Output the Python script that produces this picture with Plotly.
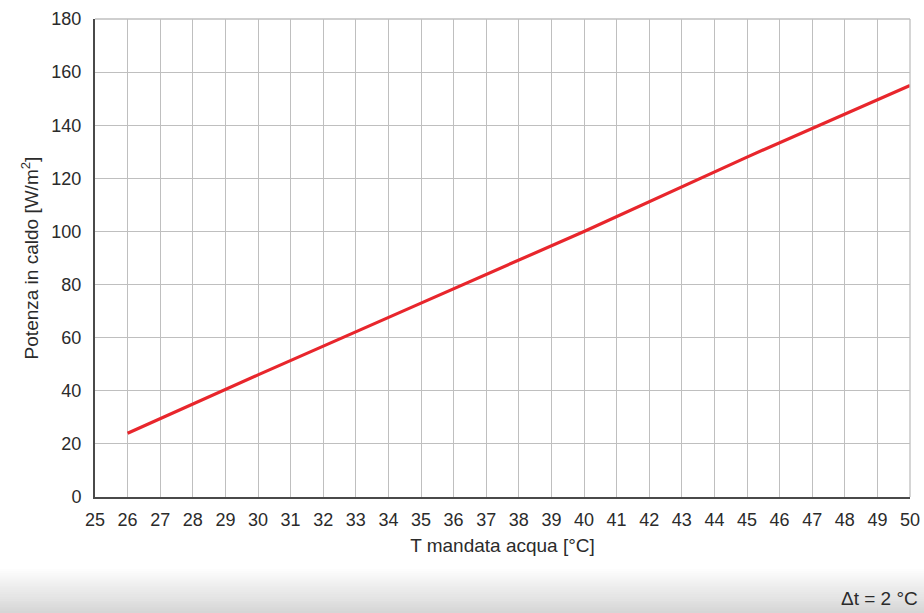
import plotly.graph_objects as go

# T mandata acqua [°C] vs potenza in caldo [W/m2], Δt = 2 °C
t_mandata = [26, 30, 35, 40, 45, 50]
potenza = [24, 46, 73, 100, 128, 155]

x_ticks = list(range(25, 51))
y_ticks = list(range(0, 181, 20))

FONT = "Liberation Sans, Arial, sans-serif"

W, H = 924, 613
L, R, T, B = 95, 14, 19, 116
plot_h = H - T - B
plot_w = W - L - R

fig = go.Figure()
fig.add_trace(
    go.Scatter(
        x=t_mandata,
        y=potenza,
        mode="lines",
        line=dict(color="#e8262c", width=3.2),
        showlegend=False,
    )
)

fig.update_layout(
    width=W,
    height=H,
    margin=dict(l=L, r=R, t=T, b=B, autoexpand=False),
    paper_bgcolor="white",
    plot_bgcolor="white",
    font=dict(family=FONT, size=18, color="#2b2b2b"),
)

fig.update_xaxes(
    range=[25, 50],
    tickvals=x_ticks,
    automargin=False,
    showgrid=True,
    gridcolor="#bfbfbf",
    gridwidth=1.3,
    showline=True,
    linecolor="#4a4a4a",
    linewidth=2,
    ticks="",
    ticklabelstandoff=5,
    zeroline=False,
    title=dict(text="T mandata acqua [°C]", standoff=10, font=dict(size=19)),
)
fig.update_yaxes(
    range=[0, 180],
    tickvals=y_ticks,
    automargin=False,
    showgrid=True,
    gridcolor="#bfbfbf",
    gridwidth=1.3,
    showline=True,
    linecolor="#4a4a4a",
    linewidth=2,
    ticks="",
    ticklabelstandoff=8,
    zeroline=False,
    title=dict(text="Potenza in caldo [W/m<sup>2</sup>]", standoff=8, font=dict(size=19)),
)

# top and right borders of the grid
fig.add_shape(type="line", xref="paper", yref="paper", x0=0, x1=1, y0=1, y1=1,
              line=dict(color="#bfbfbf", width=1.3))
fig.add_shape(type="line", xref="paper", yref="paper", x0=1, x1=1, y0=0, y1=1,
              line=dict(color="#bfbfbf", width=1.3))

# grey gradient band at the bottom of the page
band_top, band_bottom = H - 44, H + 2
steps = 22
step_h = (band_bottom - band_top) / steps
for i in range(steps):
    g = int(255 - (i + 1) * 42 / steps)
    y_top = band_top + i * step_h
    fig.add_shape(
        type="rect", xref="paper", yref="paper",
        x0=-0.2, x1=1.1,
        y0=(H - B - (y_top + step_h + 0.5)) / plot_h,
        y1=(H - B - y_top) / plot_h,
        line=dict(width=0), fillcolor=f"rgb({g},{g},{g})", layer="below",
    )

fig.add_annotation(
    text="Δt = 2 °C", xref="paper", yref="paper",
    x=(920 - L) / plot_w, y=(H - B - 598) / plot_h,
    xanchor="right", yanchor="middle", showarrow=False,
    font=dict(family=FONT, size=19, color="#2b2b2b"),
)

# drop the default page margin so the figure fills the window
fig.write_html(
    "out.html",
    config={"displayModeBar": False},
    post_script="document.body.style.margin='0';document.body.style.overflow='hidden';",
)
